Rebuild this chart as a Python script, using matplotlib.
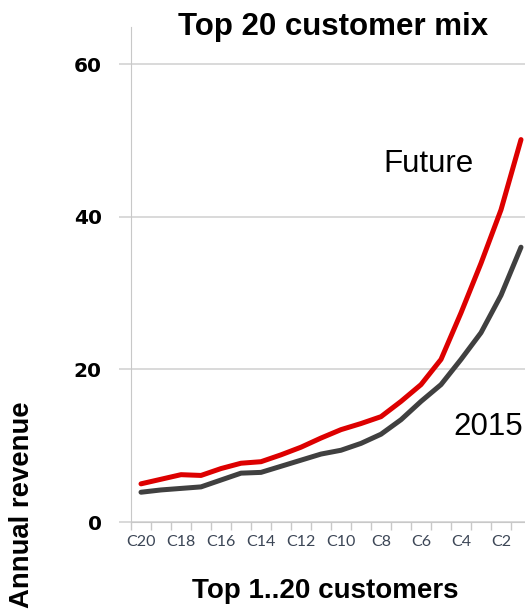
import matplotlib.pyplot as plt
import numpy as np

# customers ranked from smallest (C20) to largest (C1)
customers = ['C%d' % n for n in range(20, 0, -1)]
future = [5.0, 5.6, 6.2, 6.1, 7.0, 7.7, 7.9, 8.8, 9.8, 11.0,
          12.1, 12.9, 13.8, 15.8, 18.0, 21.3, 27.4, 33.9, 40.9, 50.1]
rev_2015 = [3.9, 4.2, 4.4, 4.6, 5.5, 6.4, 6.5, 7.3, 8.1, 8.9,
            9.4, 10.3, 11.5, 13.4, 15.8, 18.0, 21.3, 24.8, 29.7, 36.0]
y_ticks = [0, 20, 40, 60]

W, H = 525, 611
fig = plt.figure(figsize=(W / 100, H / 100), dpi=100)
# plot area runs past the right edge, like the cropped original
ax = fig.add_axes([131 / W, (H - 522) / H, 400 / W, 495 / H])

x = np.arange(len(customers))
ax.plot(x, rev_2015, color='#404040', linewidth=3.6, solid_joinstyle='round', solid_capstyle='round', zorder=3)
ax.plot(x, future, color='#dd0000', linewidth=3.6, solid_joinstyle='round', solid_capstyle='round', zorder=4)

ax.set_xlim(-0.5, len(customers) - 0.5)
ax.set_ylim(0, 495 / 7.633)

# y axis
ax.set_yticks(y_ticks)
ax.set_yticklabels([str(v) for v in y_ticks], fontsize=14.5, fontweight='bold', family='DejaVu Sans')
ax.yaxis.grid(True, color='#d0d0d0', linewidth=1.1)
ax.tick_params(axis='y', length=9, width=1.1, color='#d0d0d0', pad=12)

# x axis: tick marks on boundaries, labels on every other customer
ax.set_xticks(np.arange(-0.5, len(customers), 1.0))
ax.set_xticklabels([])
ax.set_xticks(x[::2], minor=True)
ax.set_xticklabels(customers[::2], minor=True, fontsize=11.5, family='Lato', color='#3c4656')
ax.tick_params(axis='x', which='major', length=6, width=1.0, color='#c8c8c8')
ax.tick_params(axis='x', which='minor', length=0, pad=9)

for side in ['top', 'right']:
    ax.spines[side].set_visible(False)
ax.spines['left'].set_color('#c8c8c8')
ax.spines['bottom'].set_color('#c8c8c8')
ax.set_axisbelow(True)

ax.text(12.1, 45.9, 'Future', fontsize=22.5, family='Liberation Sans', va='baseline', ha='left')
ax.text(15.6, 11.4, '2015', fontsize=22.5, family='Liberation Sans', va='baseline', ha='left', clip_on=False)

fig.text(333 / W, 1 - 34.5 / H, 'Top 20 customer mix', fontsize=22.5, fontweight='bold',
         family='Liberation Sans', ha='center', va='baseline')
fig.text(325 / W, 1 - 598 / H, 'Top 1..20 customers', fontsize=20, fontweight='bold',
         family='Liberation Sans', ha='center', va='baseline')
fig.text(35 / W, 1 - 505 / H, 'Annual revenue', fontsize=19.8, fontweight='bold',
         family='Liberation Sans', rotation=90, ha='right', va='center')

fig.savefig('out.png', dpi=100)
